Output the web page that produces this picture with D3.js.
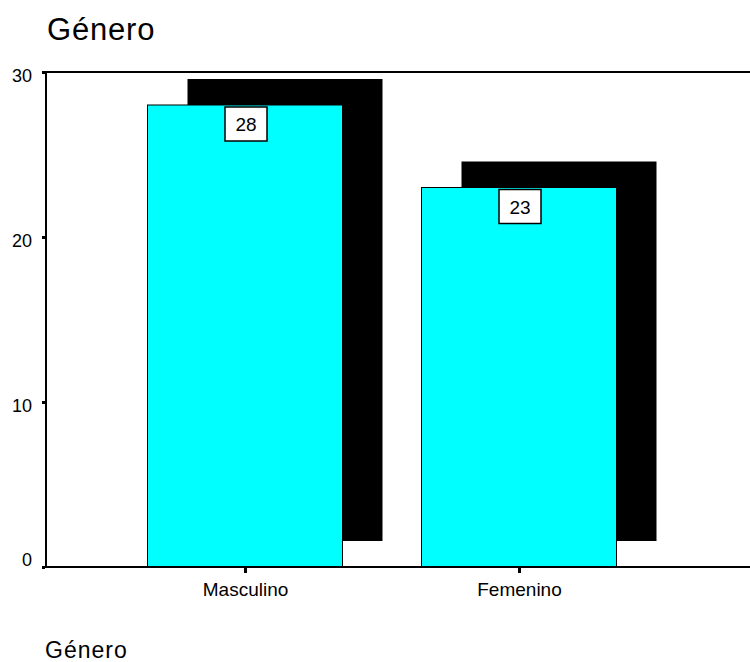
<!DOCTYPE html>
<html>
<head>
<meta charset="utf-8">
<script src="https://cdn.jsdelivr.net/npm/d3@7"></script>
<style>
  html, body { margin: 0; padding: 0; background: #fff; }
  svg { display: block; font-family: "Liberation Sans", Arial, sans-serif; }
</style>
</head>
<body>
<svg id="chart" width="750" height="662"></svg>
<script>
// Frequency of respondents by gender
const categories = ["Masculino", "Femenino"];
const counts = [28, 23];
const yTickValues = [0, 10, 20, 30];
const chartTitle = "Género";
const axisTitle = "Género";

const svg = d3.select("#chart");
const W = 750;

// Plot frame
const plotLeft = 46, plotTop = 72, plotBottom = 567, plotRight = 760;

const y = d3.scaleLinear().domain([0, 30]).range([plotBottom, plotTop]);
const x = d3.scalePoint().domain(categories).range([245, 519]);
const barW = 195;
const shadowDx = 40, shadowDy = -26;

// Title
svg.append("text")
  .attr("x", 47).attr("y", 40)
  .attr("font-size", 31).attr("letter-spacing", 0.8)
  .attr("fill", "#000")
  .text(chartTitle);

// Drop shadows
svg.append("g").selectAll("rect")
  .data(categories)
  .join("rect")
  .attr("x", d => x(d) - barW / 2 + shadowDx)
  .attr("y", (d, i) => y(counts[i]) + shadowDy)
  .attr("width", barW)
  .attr("height", (d, i) => y(0) - y(counts[i]))
  .attr("fill", "#000");

// Bars
svg.append("g").selectAll("rect")
  .data(categories)
  .join("rect")
  .attr("x", d => x(d) - barW / 2)
  .attr("y", (d, i) => y(counts[i]))
  .attr("width", barW)
  .attr("height", (d, i) => y(0) - y(counts[i]))
  .attr("fill", "#00ffff")
  .attr("stroke", "#000")
  .attr("stroke-width", 1);

// Frame (top and left edges, baseline)
const frame = svg.append("g").attr("fill", "none").attr("stroke", "#000").attr("stroke-width", 2);
frame.append("path")
  .attr("d", `M${plotRight},${plotTop}H${plotLeft}V${plotBottom}H${plotRight}`);

// Y axis ticks and labels
const yAxis = svg.append("g")
  .attr("transform", `translate(${plotLeft - 1},0)`)
  .call(d3.axisLeft(y).tickValues(yTickValues).tickSize(3).tickPadding(10));
yAxis.select(".domain").remove();
yAxis.selectAll(".tick line").attr("stroke", "#000").attr("stroke-width", 3);
yAxis.selectAll(".tick text")
  .attr("font-size", 18)
  .attr("font-family", "Liberation Sans, Arial, sans-serif")
  .attr("fill", "#000")
  .attr("dy", d => d === 0 ? "-0.1em" : "0.52em");

// X axis ticks and labels
const xAxis = svg.append("g")
  .attr("transform", `translate(0,${plotBottom})`)
  .call(d3.axisBottom(x).tickSize(6).tickPadding(10));
xAxis.select(".domain").remove();
xAxis.selectAll(".tick line").attr("stroke", "#000").attr("stroke-width", 3);
xAxis.selectAll(".tick text")
  .attr("font-size", 19)
  .attr("font-family", "Liberation Sans, Arial, sans-serif")
  .attr("fill", "#000");

// Value labels in boxes
const lbl = svg.append("g").selectAll("g")
  .data(categories)
  .join("g")
  .attr("transform", (d, i) => `translate(${x(d) + 1},${y(counts[i]) + 2})`);
lbl.append("rect")
  .attr("x", -21).attr("y", 0)
  .attr("width", 42).attr("height", 34)
  .attr("fill", "#fff").attr("stroke", "#000").attr("stroke-width", 1.5);
lbl.append("text")
  .attr("x", 0).attr("y", 24)
  .attr("text-anchor", "middle")
  .attr("font-size", 19)
  .attr("fill", "#000")
  .text((d, i) => counts[i]);

// Axis title
svg.append("text")
  .attr("x", 45).attr("y", 658)
  .attr("font-size", 23).attr("letter-spacing", 1)
  .attr("fill", "#000")
  .text(axisTitle);
</script>
</body>
</html>
